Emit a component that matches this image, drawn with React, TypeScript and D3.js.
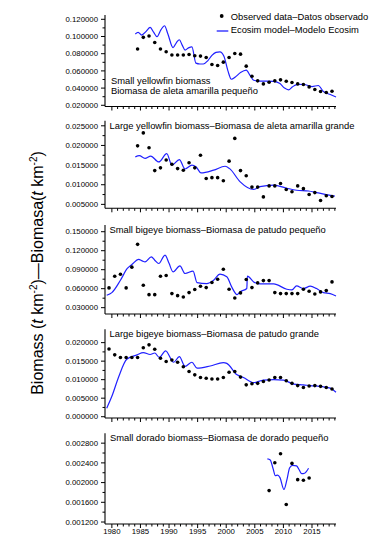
import React from "react";
import * as d3 from "d3";

// ---- Observed biomass (t km^-2), one value per year ----
const YEARS_YFT_SMALL = d3.range(1984, 2019);
const OBS_YFT_SMALL = [0.0854, 0.0990, 0.1005, 0.0931, 0.0854, 0.0822, 0.0784, 0.0784, 0.0784, 0.0791, 0.0776, 0.0772, 0.0756, 0.0675, 0.0663, 0.0702, 0.0756, 0.0803, 0.0795, 0.0655, 0.0538, 0.0484, 0.0449, 0.0468, 0.0484, 0.0496, 0.0480, 0.0465, 0.0449, 0.0441, 0.0414, 0.0383, 0.0360, 0.0348, 0.0363];

const YEARS_YFT_LARGE = d3.range(1984, 2019);
const OBS_YFT_LARGE = [0.0199, 0.0232, 0.0194, 0.0136, 0.0143, 0.0163, 0.0152, 0.0141, 0.0137, 0.0156, 0.0143, 0.0175, 0.0116, 0.0118, 0.0118, 0.0110, 0.0160, 0.0218, 0.0136, 0.0123, 0.0094, 0.0094, 0.0069, 0.0097, 0.0097, 0.0103, 0.0088, 0.0082, 0.0097, 0.0090, 0.0075, 0.0080, 0.0060, 0.0072, 0.0070];

const YEARS_BET_SMALL = d3.range(1979, 2019);
const OBS_BET_SMALL = [0.0612, 0.0797, 0.0829, 0.0612, 0.0940, 0.1300, 0.0655, 0.0506, 0.0506, 0.0797, 0.0808, 0.0522, 0.0490, 0.0469, 0.0538, 0.0586, 0.0639, 0.0617, 0.0697, 0.0750, 0.0908, 0.0591, 0.0453, 0.0533, 0.0744, 0.0617, 0.0691, 0.0728, 0.0728, 0.0538, 0.0522, 0.0522, 0.0522, 0.0522, 0.0591, 0.0559, 0.0517, 0.0549, 0.0570, 0.0707];

const YEARS_BET_LARGE = d3.range(1979, 2019);
const OBS_BET_LARGE = [0.0183, 0.0167, 0.0160, 0.0160, 0.0160, 0.0160, 0.0186, 0.0194, 0.0182, 0.0158, 0.0149, 0.0153, 0.0147, 0.0135, 0.0122, 0.0113, 0.0106, 0.0104, 0.0102, 0.0102, 0.0106, 0.0120, 0.0122, 0.0107, 0.0086, 0.0089, 0.0090, 0.0095, 0.0099, 0.0106, 0.0106, 0.0097, 0.0090, 0.0084, 0.0079, 0.0083, 0.0084, 0.0082, 0.0079, 0.0075];

const YEARS_DOL_SMALL = d3.range(2007, 2015);
const OBS_DOL_SMALL = [0.001838, 0.002403, 0.002584, 0.001556, 0.002389, 0.002060, 0.002047, 0.002094];

// ---- Ecosim model trajectories (time in decimal years, biomass) ----
const MODEL_T_YFT_SMALL = [1984.1, 1984.6, 1985.2, 1986.0, 1986.7, 1987.3, 1987.9, 1988.6, 1989.2, 1989.8, 1990.7, 1991.3, 1991.8, 1992.3, 1992.8, 1993.4, 1994.0, 1994.7, 1995.4, 1996.0, 1996.8, 1997.5, 1998.2, 1998.9, 1999.6, 2000.3, 2000.9, 2001.6, 2002.5, 2003.5, 2004.2, 2004.8, 2005.9, 2007.0, 2008.3, 2009.4, 2010.2, 2010.9, 2011.6, 2012.3, 2013.5, 2014.3, 2015.0, 2016.1, 2017.0, 2018.2, 2019.2];
const MODEL_V_YFT_SMALL = [0.1029, 0.1048, 0.1017, 0.1060, 0.1106, 0.1050, 0.0997, 0.1080, 0.1125, 0.1030, 0.0870, 0.0930, 0.0962, 0.0900, 0.0842, 0.0868, 0.0880, 0.0690, 0.0680, 0.0680, 0.0720, 0.0780, 0.0815, 0.0822, 0.0770, 0.0600, 0.0503, 0.0530, 0.0580, 0.0608, 0.0545, 0.0491, 0.0480, 0.0482, 0.0478, 0.0453, 0.0400, 0.0380, 0.0415, 0.0441, 0.0445, 0.0430, 0.0418, 0.0430, 0.0360, 0.0325, 0.0297];

const MODEL_T_YFT_LARGE = [1984.1, 1984.8, 1985.8, 1986.8, 1988.2, 1989.6, 1990.5, 1991.8, 1992.8, 1994.0, 1994.7, 1995.6, 1997.8, 1999.8, 2000.6, 2002.4, 2004.8, 2005.9, 2008.3, 2010.6, 2012.3, 2014.4, 2015.8, 2017.5, 2019.0];
const MODEL_V_YFT_LARGE = [0.0171, 0.0174, 0.0167, 0.0173, 0.0158, 0.0179, 0.0150, 0.0164, 0.0140, 0.0150, 0.0146, 0.0130, 0.0137, 0.0147, 0.0141, 0.0108, 0.0088, 0.0095, 0.0099, 0.0091, 0.0086, 0.0084, 0.0080, 0.0075, 0.0071];

const MODEL_T_BET_SMALL = [1979.1, 1980.0, 1981.5, 1982.7, 1983.5, 1984.7, 1985.3, 1985.8, 1986.9, 1987.5, 1988.2, 1989.3, 1990.0, 1990.7, 1991.9, 1992.8, 1994.2, 1994.9, 1996.6, 1997.8, 1998.9, 2000.1, 2001.0, 2001.9, 2002.4, 2003.6, 2003.7, 2004.8, 2005.9, 2008.3, 2010.6, 2011.5, 2012.3, 2013.5, 2014.7, 2015.8, 2017.0, 2018.2, 2019.2];
const MODEL_V_BET_SMALL = [0.0496, 0.0538, 0.0734, 0.0919, 0.0982, 0.1062, 0.1040, 0.1025, 0.1104, 0.1050, 0.0998, 0.1131, 0.1000, 0.0866, 0.0961, 0.0840, 0.0877, 0.0697, 0.0681, 0.0734, 0.0829, 0.0787, 0.0620, 0.0506, 0.0549, 0.0602, 0.0797, 0.0707, 0.0676, 0.0676, 0.0591, 0.0580, 0.0644, 0.0602, 0.0639, 0.0602, 0.0538, 0.0522, 0.0485];

const MODEL_T_BET_LARGE = [1979.1, 1980.0, 1981.2, 1982.6, 1984.4, 1985.5, 1986.7, 1987.5, 1988.3, 1989.4, 1990.8, 1991.8, 1992.8, 1994.0, 1994.9, 1997.2, 1999.5, 2000.1, 2001.9, 2003.0, 2004.8, 2006.5, 2008.3, 2010.0, 2011.8, 2013.5, 2014.7, 2016.4, 2018.2, 2019.2];
const MODEL_V_BET_LARGE = [0.0023, 0.0055, 0.0108, 0.0155, 0.0167, 0.0173, 0.0168, 0.0172, 0.0160, 0.0178, 0.0147, 0.0162, 0.0136, 0.0147, 0.0131, 0.0137, 0.0146, 0.0144, 0.0113, 0.0106, 0.0092, 0.0099, 0.0100, 0.0099, 0.0088, 0.0086, 0.0084, 0.0082, 0.0077, 0.0066];

const MODEL_T_DOL_SMALL = [2007.2, 2007.7, 2008.2, 2008.6, 2009.0, 2009.4, 2010.1, 2010.6, 2011.1, 2011.6, 2012.3, 2012.8, 2013.2, 2013.7, 2014.4];
const MODEL_V_DOL_SMALL = [0.00248, 0.00246, 0.00228, 0.00214, 0.00215, 0.00210, 0.00186, 0.00205, 0.00230, 0.00235, 0.00234, 0.00225, 0.00218, 0.00219, 0.00229];

// ---- Axis ticks ----
const TICKS_YFT_SMALL = [0.02, 0.04, 0.06, 0.08, 0.10, 0.12];
const TICKS_YFT_LARGE = [0.005, 0.010, 0.015, 0.020, 0.025];
const TICKS_BET_SMALL = [0.03, 0.06, 0.09, 0.12, 0.15];
const TICKS_BET_LARGE = [0.0, 0.005, 0.010, 0.015, 0.020];
const TICKS_DOL_SMALL = [0.0012, 0.0016, 0.0020, 0.0024, 0.0028];
const YEAR_TICKS = d3.range(1980, 2020);
const YEAR_LABELS = [1980, 1985, 1990, 1995, 2000, 2005, 2010, 2015];

const TITLE_YFT_SMALL = ["Small yellowfin biomass", "Biomasa de aleta amarilla pequeño"];
const TITLE_YFT_LARGE = ["Large yellowfin biomass–Biomasa de aleta amarilla grande"];
const TITLE_BET_SMALL = ["Small bigeye biomass–Biomasa de patudo pequeño"];
const TITLE_BET_LARGE = ["Large bigeye biomass–Biomasa de patudo grande"];
const TITLE_DOL_SMALL = ["Small dorado biomass–Biomasa de dorado pequeño"];

const FONT = "'Liberation Sans', Arial, Helvetica, sans-serif";
const BLUE = "#2020ff";
const X_LEFT = 105;
const X_RIGHT = 336;

const x = d3.scaleLinear().domain([1978.8, 2019.2]).range([X_LEFT, X_RIGHT]);

interface Panel {
  title: string[];
  titleX: number;
  titleY: number;
  years: number[];
  obs: number[];
  modelT: number[];
  modelV: number[];
  ticks: number[];
  domain: [number, number];
  range: [number, number];
  yearLabels: boolean;
}

const panels: Panel[] = [
  { title: TITLE_YFT_SMALL, titleX: 111, titleY: 83.5, years: YEARS_YFT_SMALL, obs: OBS_YFT_SMALL, modelT: MODEL_T_YFT_SMALL, modelV: MODEL_V_YFT_SMALL, ticks: TICKS_YFT_SMALL, domain: [0.0186, 0.125], range: [106.5, 15], yearLabels: false },
  { title: TITLE_YFT_LARGE, titleX: 109.5, titleY: 128.5, years: YEARS_YFT_LARGE, obs: OBS_YFT_LARGE, modelT: MODEL_T_YFT_LARGE, modelV: MODEL_V_YFT_LARGE, ticks: TICKS_YFT_LARGE, domain: [0.0040, 0.0263], range: [208.3, 120.7], yearLabels: false },
  { title: TITLE_BET_SMALL, titleX: 109.5, titleY: 233.3, years: YEARS_BET_SMALL, obs: OBS_BET_SMALL, modelT: MODEL_T_BET_SMALL, modelV: MODEL_V_BET_SMALL, ticks: TICKS_BET_SMALL, domain: [0.020, 0.1606], range: [314, 225], yearLabels: false },
  { title: TITLE_BET_LARGE, titleX: 109.5, titleY: 336.5, years: YEARS_BET_LARGE, obs: OBS_BET_LARGE, modelT: MODEL_T_BET_LARGE, modelV: MODEL_V_BET_LARGE, ticks: TICKS_BET_LARGE, domain: [-0.00035, 0.0236], range: [418, 329.3], yearLabels: false },
  { title: TITLE_DOL_SMALL, titleX: 110, titleY: 440.5, years: YEARS_DOL_SMALL, obs: OBS_DOL_SMALL, modelT: MODEL_T_DOL_SMALL, modelV: MODEL_V_DOL_SMALL, ticks: TICKS_DOL_SMALL, domain: [0.00116, 0.0030], range: [524, 433.3], yearLabels: true },
];

function PanelView({ p }: { p: Panel }) {
  const y = d3.scaleLinear().domain(p.domain).range(p.range);
  const [yBottom, yTop] = p.range;
  const minor = d3.pairs(p.ticks).map(([a, b]) => (a + b) / 2);
  const line = d3
    .line<number>()
    .x((_, i) => x(p.modelT[i]))
    .y((v) => y(v))
    .curve(d3.curveMonotoneX);
  return (
    <g>
      {/* axes */}
      <line x1={X_LEFT} x2={X_LEFT} y1={yTop} y2={yBottom} stroke="#000" strokeWidth={1.1} />
      <line x1={X_LEFT} x2={X_RIGHT} y1={yBottom} y2={yBottom} stroke="#000" strokeWidth={1.1} />
      {p.ticks.map((t) => (
        <g key={"t" + t}>
          <line x1={X_LEFT - 4} x2={X_LEFT} y1={y(t)} y2={y(t)} stroke="#000" strokeWidth={1} />
          <text x={X_LEFT - 7} y={y(t)} dy="0.35em" textAnchor="end" fontSize={7.8} fontFamily={FONT} fill="#000">
            {t.toFixed(6)}
          </text>
        </g>
      ))}
      {minor.map((t) => (
        <line key={"m" + t} x1={X_LEFT - 2.5} x2={X_LEFT} y1={y(t)} y2={y(t)} stroke="#000" strokeWidth={1} />
      ))}
      {YEAR_TICKS.map((yr) => (
        <line key={"x" + yr} x1={x(yr)} x2={x(yr)} y1={yBottom} y2={yBottom + (yr % 5 === 0 ? 4 : 2.5)} stroke="#000" strokeWidth={1} />
      ))}
      {p.yearLabels &&
        YEAR_LABELS.map((yr) => (
          <text key={"l" + yr} x={x(yr)} y={534} textAnchor="middle" fontSize={7.8} fontFamily={FONT} fill="#000">
            {yr}
          </text>
        ))}
      {/* title */}
      {p.title.map((s, i) => (
        <text key={s} x={p.titleX} y={p.titleY + i * 10.3} fontSize={9.4} fontFamily={FONT} fill="#000">
          {s}
        </text>
      ))}
      {/* model */}
      <path d={line(p.modelV) || ""} fill="none" stroke={BLUE} strokeWidth={1.2} />
      {/* observations */}
      {p.obs.map((v, i) => (
        <circle key={"o" + i} cx={x(p.years[i] + 0.5)} cy={y(v)} r={1.8} fill="#000" />
      ))}
    </g>
  );
}

export default function App() {
  return (
    <svg width={370} height={542} style={{ position: "absolute", left: 0, top: 0, background: "#fff" }}>
      <rect width={370} height={542} fill="#fff" />
      {panels.map((p, i) => (
        <PanelView key={i} p={p} />
      ))}
      {/* legend */}
      <circle cx={221.7} cy={16} r={1.9} fill="#000" />
      <text x={230.7} y={20} fontSize={9.4} fontFamily={FONT} fill="#000">Observed data–Datos observado</text>
      <line x1={216.7} x2={228.3} y1={31} y2={31} stroke={BLUE} strokeWidth={1.3} />
      <text x={230.7} y={32.7} fontSize={9.4} fontFamily={FONT} fill="#000">Ecosim model–Modelo Ecosim</text>
      {/* y axis title */}
      <text transform="translate(42.5,273) rotate(-90)" textAnchor="middle" fontSize={16} fontFamily={FONT} fill="#000">
        Biomass (<tspan fontStyle="italic">t</tspan> km<tspan dy={-6} fontSize={10}>-2</tspan><tspan dy={6}>)—Biomasa(</tspan><tspan fontStyle="italic">t</tspan> km<tspan dy={-6} fontSize={10}>-2</tspan><tspan dy={6}>)</tspan>
      </text>
    </svg>
  );
}
